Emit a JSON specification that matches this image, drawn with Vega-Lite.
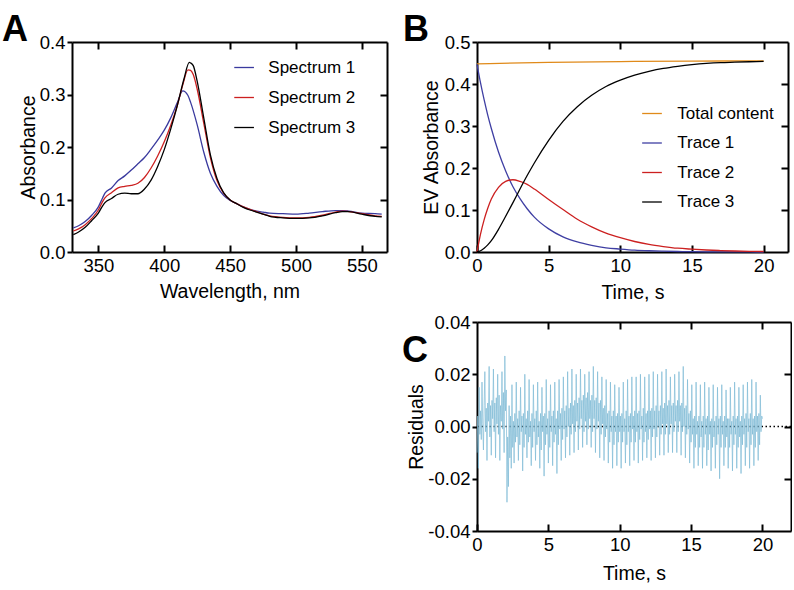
{
"$schema":"https://vega.github.io/schema/vega-lite/v6.json",
"background":"white",
"padding":{"left":2,"top":12,"right":0,"bottom":0},
"config":{
 "font":"Liberation Sans",
 "view":{"stroke":null},
 "axis":{"domainColor":"black","domainWidth":2,"tickColor":"black","tickWidth":2,"labelColor":"black","labelFontSize":18.5,"titleFontSize":19.5,"titleFontWeight":"normal","titleColor":"black","grid":false,"labelFlush":false,"labelOverlap":false},
 "title":{"fontSize":36,"fontWeight":"bold","anchor":"start","frame":"group","offset":0,"color":"black","baseline":"alphabetic"},
 "legend":{"padding":0,"labelFontSize":17,"labelColor":"black","symbolType":"stroke","symbolStrokeWidth":1.3,"symbolSize":388}
},
"resolve":{"scale":{"color":"independent"},"legend":{"color":"independent"}},
"datasets":{
 "spectra":[
{"nm":331,"s":"Spectrum 1","a":0.046},{"nm":335,"s":"Spectrum 1","a":0.05},{"nm":340,"s":"Spectrum 1","a":0.058},{"nm":345,"s":"Spectrum 1","a":0.07},{"nm":350,"s":"Spectrum 1","a":0.086},{"nm":353,"s":"Spectrum 1","a":0.102},{"nm":355,"s":"Spectrum 1","a":0.112},{"nm":360,"s":"Spectrum 1","a":0.122},{"nm":365,"s":"Spectrum 1","a":0.136},{"nm":370,"s":"Spectrum 1","a":0.145},{"nm":375,"s":"Spectrum 1","a":0.156},{"nm":380,"s":"Spectrum 1","a":0.168},{"nm":385,"s":"Spectrum 1","a":0.18},{"nm":390,"s":"Spectrum 1","a":0.196},{"nm":395,"s":"Spectrum 1","a":0.213},{"nm":400,"s":"Spectrum 1","a":0.232},{"nm":405,"s":"Spectrum 1","a":0.256},{"nm":410,"s":"Spectrum 1","a":0.285},{"nm":414,"s":"Spectrum 1","a":0.307},{"nm":418,"s":"Spectrum 1","a":0.298},{"nm":420,"s":"Spectrum 1","a":0.285},{"nm":425,"s":"Spectrum 1","a":0.242},{"nm":430,"s":"Spectrum 1","a":0.19},{"nm":435,"s":"Spectrum 1","a":0.15},{"nm":440,"s":"Spectrum 1","a":0.125},{"nm":445,"s":"Spectrum 1","a":0.108},{"nm":450,"s":"Spectrum 1","a":0.098},{"nm":455,"s":"Spectrum 1","a":0.092},{"nm":460,"s":"Spectrum 1","a":0.086},{"nm":465,"s":"Spectrum 1","a":0.081},{"nm":470,"s":"Spectrum 1","a":0.078},{"nm":475,"s":"Spectrum 1","a":0.076},{"nm":480,"s":"Spectrum 1","a":0.074},{"nm":490,"s":"Spectrum 1","a":0.073},{"nm":500,"s":"Spectrum 1","a":0.072},{"nm":510,"s":"Spectrum 1","a":0.074},{"nm":520,"s":"Spectrum 1","a":0.077},{"nm":530,"s":"Spectrum 1","a":0.079},{"nm":535,"s":"Spectrum 1","a":0.079},{"nm":540,"s":"Spectrum 1","a":0.078},{"nm":550,"s":"Spectrum 1","a":0.074},{"nm":560,"s":"Spectrum 1","a":0.073},{"nm":565,"s":"Spectrum 1","a":0.072},
{"nm":331,"s":"Spectrum 2","a":0.04},{"nm":335,"s":"Spectrum 2","a":0.044},{"nm":340,"s":"Spectrum 2","a":0.052},{"nm":345,"s":"Spectrum 2","a":0.064},{"nm":350,"s":"Spectrum 2","a":0.08},{"nm":353,"s":"Spectrum 2","a":0.095},{"nm":355,"s":"Spectrum 2","a":0.103},{"nm":360,"s":"Spectrum 2","a":0.113},{"nm":365,"s":"Spectrum 2","a":0.122},{"nm":370,"s":"Spectrum 2","a":0.125},{"nm":375,"s":"Spectrum 2","a":0.127},{"nm":380,"s":"Spectrum 2","a":0.131},{"nm":385,"s":"Spectrum 2","a":0.142},{"nm":390,"s":"Spectrum 2","a":0.16},{"nm":395,"s":"Spectrum 2","a":0.183},{"nm":400,"s":"Spectrum 2","a":0.21},{"nm":405,"s":"Spectrum 2","a":0.242},{"nm":410,"s":"Spectrum 2","a":0.28},{"nm":414,"s":"Spectrum 2","a":0.318},{"nm":418,"s":"Spectrum 2","a":0.347},{"nm":420,"s":"Spectrum 2","a":0.346},{"nm":422,"s":"Spectrum 2","a":0.338},{"nm":425,"s":"Spectrum 2","a":0.31},{"nm":430,"s":"Spectrum 2","a":0.245},{"nm":435,"s":"Spectrum 2","a":0.18},{"nm":440,"s":"Spectrum 2","a":0.136},{"nm":445,"s":"Spectrum 2","a":0.112},{"nm":450,"s":"Spectrum 2","a":0.099},{"nm":455,"s":"Spectrum 2","a":0.092},{"nm":460,"s":"Spectrum 2","a":0.086},{"nm":465,"s":"Spectrum 2","a":0.081},{"nm":470,"s":"Spectrum 2","a":0.077},{"nm":475,"s":"Spectrum 2","a":0.072},{"nm":480,"s":"Spectrum 2","a":0.069},{"nm":490,"s":"Spectrum 2","a":0.066},{"nm":500,"s":"Spectrum 2","a":0.065},{"nm":510,"s":"Spectrum 2","a":0.066},{"nm":520,"s":"Spectrum 2","a":0.07},{"nm":530,"s":"Spectrum 2","a":0.076},{"nm":535,"s":"Spectrum 2","a":0.078},{"nm":540,"s":"Spectrum 2","a":0.077},{"nm":550,"s":"Spectrum 2","a":0.073},{"nm":560,"s":"Spectrum 2","a":0.069},{"nm":565,"s":"Spectrum 2","a":0.068},
{"nm":331,"s":"Spectrum 3","a":0.033},{"nm":335,"s":"Spectrum 3","a":0.038},{"nm":340,"s":"Spectrum 3","a":0.047},{"nm":345,"s":"Spectrum 3","a":0.06},{"nm":350,"s":"Spectrum 3","a":0.074},{"nm":353,"s":"Spectrum 3","a":0.087},{"nm":355,"s":"Spectrum 3","a":0.094},{"nm":360,"s":"Spectrum 3","a":0.102},{"nm":365,"s":"Spectrum 3","a":0.11},{"nm":370,"s":"Spectrum 3","a":0.112},{"nm":375,"s":"Spectrum 3","a":0.111},{"nm":380,"s":"Spectrum 3","a":0.111},{"nm":385,"s":"Spectrum 3","a":0.12},{"nm":390,"s":"Spectrum 3","a":0.137},{"nm":395,"s":"Spectrum 3","a":0.163},{"nm":400,"s":"Spectrum 3","a":0.195},{"nm":405,"s":"Spectrum 3","a":0.235},{"nm":410,"s":"Spectrum 3","a":0.28},{"nm":415,"s":"Spectrum 3","a":0.33},{"nm":419,"s":"Spectrum 3","a":0.361},{"nm":420,"s":"Spectrum 3","a":0.36},{"nm":422,"s":"Spectrum 3","a":0.355},{"nm":425,"s":"Spectrum 3","a":0.325},{"nm":430,"s":"Spectrum 3","a":0.255},{"nm":435,"s":"Spectrum 3","a":0.185},{"nm":440,"s":"Spectrum 3","a":0.14},{"nm":445,"s":"Spectrum 3","a":0.113},{"nm":450,"s":"Spectrum 3","a":0.099},{"nm":455,"s":"Spectrum 3","a":0.092},{"nm":460,"s":"Spectrum 3","a":0.085},{"nm":465,"s":"Spectrum 3","a":0.08},{"nm":470,"s":"Spectrum 3","a":0.076},{"nm":475,"s":"Spectrum 3","a":0.072},{"nm":480,"s":"Spectrum 3","a":0.068},{"nm":490,"s":"Spectrum 3","a":0.065},{"nm":500,"s":"Spectrum 3","a":0.064},{"nm":510,"s":"Spectrum 3","a":0.065},{"nm":520,"s":"Spectrum 3","a":0.069},{"nm":530,"s":"Spectrum 3","a":0.075},{"nm":535,"s":"Spectrum 3","a":0.077},{"nm":540,"s":"Spectrum 3","a":0.077},{"nm":550,"s":"Spectrum 3","a":0.072},{"nm":560,"s":"Spectrum 3","a":0.068},{"nm":565,"s":"Spectrum 3","a":0.067}
 ],
 "traces":[
{"t":0,"k":"Total content","v":0.448},{"t":5,"k":"Total content","v":0.4515},{"t":10,"k":"Total content","v":0.4535},{"t":15,"k":"Total content","v":0.4545},{"t":20,"k":"Total content","v":0.455},
{"t":0,"k":"Trace 1","v":0.447},{"t":0.25,"k":"Trace 1","v":0.402},{"t":0.5,"k":"Trace 1","v":0.362},{"t":0.75,"k":"Trace 1","v":0.326},{"t":1,"k":"Trace 1","v":0.294},{"t":1.5,"k":"Trace 1","v":0.238},{"t":2,"k":"Trace 1","v":0.193},{"t":2.5,"k":"Trace 1","v":0.156},{"t":3,"k":"Trace 1","v":0.127},{"t":3.5,"k":"Trace 1","v":0.103},{"t":4,"k":"Trace 1","v":0.083},{"t":5,"k":"Trace 1","v":0.055},{"t":6,"k":"Trace 1","v":0.036},{"t":7,"k":"Trace 1","v":0.024},{"t":8,"k":"Trace 1","v":0.016},{"t":9,"k":"Trace 1","v":0.01},{"t":10,"k":"Trace 1","v":0.007},{"t":11,"k":"Trace 1","v":0.0045},{"t":12,"k":"Trace 1","v":0.003},{"t":13,"k":"Trace 1","v":0.002},{"t":14,"k":"Trace 1","v":0.0012},{"t":15,"k":"Trace 1","v":0.0008},{"t":16,"k":"Trace 1","v":0.0005},{"t":17,"k":"Trace 1","v":0.0003},{"t":18,"k":"Trace 1","v":0.0002},{"t":19,"k":"Trace 1","v":0.0001},{"t":20,"k":"Trace 1","v":0},
{"t":0,"k":"Trace 2","v":0},{"t":0.25,"k":"Trace 2","v":0.043},{"t":0.5,"k":"Trace 2","v":0.077},{"t":0.75,"k":"Trace 2","v":0.104},{"t":1,"k":"Trace 2","v":0.126},{"t":1.5,"k":"Trace 2","v":0.154},{"t":2,"k":"Trace 2","v":0.168},{"t":2.5,"k":"Trace 2","v":0.172},{"t":3,"k":"Trace 2","v":0.168},{"t":3.5,"k":"Trace 2","v":0.161},{"t":4,"k":"Trace 2","v":0.15},{"t":5,"k":"Trace 2","v":0.125},{"t":6,"k":"Trace 2","v":0.101},{"t":7,"k":"Trace 2","v":0.078},{"t":8,"k":"Trace 2","v":0.06},{"t":9,"k":"Trace 2","v":0.045},{"t":10,"k":"Trace 2","v":0.034},{"t":11,"k":"Trace 2","v":0.025},{"t":12,"k":"Trace 2","v":0.018},{"t":13,"k":"Trace 2","v":0.013},{"t":14,"k":"Trace 2","v":0.009},{"t":15,"k":"Trace 2","v":0.0067},{"t":16,"k":"Trace 2","v":0.0048},{"t":17,"k":"Trace 2","v":0.0034},{"t":18,"k":"Trace 2","v":0.0024},{"t":19,"k":"Trace 2","v":0.0017},{"t":20,"k":"Trace 2","v":0.0012},
{"t":0,"k":"Trace 3","v":0},{"t":0.25,"k":"Trace 3","v":0.003},{"t":0.5,"k":"Trace 3","v":0.009},{"t":0.75,"k":"Trace 3","v":0.017},{"t":1,"k":"Trace 3","v":0.027},{"t":1.5,"k":"Trace 3","v":0.054},{"t":2,"k":"Trace 3","v":0.085},{"t":2.5,"k":"Trace 3","v":0.117},{"t":3,"k":"Trace 3","v":0.15},{"t":3.5,"k":"Trace 3","v":0.182},{"t":4,"k":"Trace 3","v":0.212},{"t":5,"k":"Trace 3","v":0.266},{"t":6,"k":"Trace 3","v":0.311},{"t":7,"k":"Trace 3","v":0.346},{"t":8,"k":"Trace 3","v":0.373},{"t":9,"k":"Trace 3","v":0.394},{"t":10,"k":"Trace 3","v":0.409},{"t":11,"k":"Trace 3","v":0.421},{"t":12,"k":"Trace 3","v":0.43},{"t":13,"k":"Trace 3","v":0.437},{"t":14,"k":"Trace 3","v":0.442},{"t":15,"k":"Trace 3","v":0.446},{"t":16,"k":"Trace 3","v":0.449},{"t":17,"k":"Trace 3","v":0.451},{"t":18,"k":"Trace 3","v":0.452},{"t":19,"k":"Trace 3","v":0.453},{"t":20,"k":"Trace 3","v":0.454}
 ],
 "resid":[
{"t":0,"r":-0.01},{"t":0.05,"r":0.004},{"t":0.1,"r":-0.016},{"t":0.15,"r":0.015},{"t":0.2,"r":-0.003},{"t":0.25,"r":0.006},{"t":0.3,"r":-0.005},{"t":0.35,"r":0.017},{"t":0.4,"r":0.001},{"t":0.45,"r":-0.009},{"t":0.5,"r":0.008},{"t":0.55,"r":0.021},{"t":0.6,"r":-0.002},{"t":0.65,"r":0.007},{"t":0.7,"r":-0.013},{"t":0.75,"r":0.009},{"t":0.8,"r":0.002},{"t":0.85,"r":0.023},{"t":0.9,"r":-0.004},{"t":0.95,"r":0.008},
{"t":1,"r":-0.011},{"t":1.05,"r":0.01},{"t":1.1,"r":0.003},{"t":1.15,"r":0.022},{"t":1.2,"r":-0.002},{"t":1.25,"r":0.009},{"t":1.3,"r":-0.012},{"t":1.35,"r":0.011},{"t":1.4,"r":0.001},{"t":1.45,"r":0.02},{"t":1.5,"r":-0.003},{"t":1.55,"r":0.012},{"t":1.6,"r":-0.013},{"t":1.65,"r":0.008},{"t":1.7,"r":0.002},{"t":1.75,"r":0.021},{"t":1.8,"r":-0.001},{"t":1.85,"r":0.013},{"t":1.9,"r":-0.01},{"t":1.95,"r":0.027},
{"t":2,"r":0.006},{"t":2.05,"r":0.014},{"t":2.1,"r":-0.029},{"t":2.15,"r":-0.004},{"t":2.2,"r":-0.023},{"t":2.25,"r":0.008},{"t":2.3,"r":-0.012},{"t":2.35,"r":0.004},{"t":2.4,"r":-0.016},{"t":2.45,"r":0.016},{"t":2.5,"r":-0.008},{"t":2.55,"r":0.002},{"t":2.6,"r":-0.014},{"t":2.65,"r":0.005},{"t":2.7,"r":-0.006},{"t":2.75,"r":0.017},{"t":2.8,"r":-0.004},{"t":2.85,"r":0.003},{"t":2.9,"r":-0.013},{"t":2.95,"r":0.006},
{"t":3,"r":-0.007},{"t":3.05,"r":0.015},{"t":3.1,"r":-0.002},{"t":3.15,"r":0.004},{"t":3.2,"r":-0.017},{"t":3.25,"r":0.005},{"t":3.3,"r":-0.008},{"t":3.35,"r":0.02},{"t":3.4,"r":-0.003},{"t":3.45,"r":0.003},{"t":3.5,"r":-0.012},{"t":3.55,"r":0.006},{"t":3.6,"r":-0.006},{"t":3.65,"r":0.018},{"t":3.7,"r":-0.004},{"t":3.75,"r":0.002},{"t":3.8,"r":-0.015},{"t":3.85,"r":0.005},{"t":3.9,"r":-0.008},{"t":3.95,"r":0.016},
{"t":4,"r":-0.002},{"t":4.05,"r":0.003},{"t":4.1,"r":-0.013},{"t":4.15,"r":0.006},{"t":4.2,"r":-0.007},{"t":4.25,"r":0.017},{"t":4.3,"r":-0.004},{"t":4.35,"r":0.002},{"t":4.4,"r":-0.016},{"t":4.45,"r":0.005},{"t":4.5,"r":-0.009},{"t":4.55,"r":0.015},{"t":4.6,"r":-0.002},{"t":4.65,"r":0.004},{"t":4.7,"r":-0.019},{"t":4.75,"r":0.005},{"t":4.8,"r":-0.007},{"t":4.85,"r":0.018},{"t":4.9,"r":-0.003},{"t":4.95,"r":0.003},
{"t":5,"r":-0.014},{"t":5.05,"r":0.006},{"t":5.1,"r":-0.008},{"t":5.15,"r":0.016},{"t":5.2,"r":-0.002},{"t":5.25,"r":0.004},{"t":5.3,"r":-0.015},{"t":5.35,"r":0.006},{"t":5.4,"r":-0.006},{"t":5.45,"r":0.017},{"t":5.5,"r":-0.003},{"t":5.55,"r":0.003},{"t":5.6,"r":-0.018},{"t":5.65,"r":0.006},{"t":5.7,"r":-0.007},{"t":5.75,"r":0.018},{"t":5.8,"r":-0.001},{"t":5.85,"r":0.005},{"t":5.9,"r":-0.013},{"t":5.95,"r":0.007},
{"t":6,"r":-0.005},{"t":6.05,"r":0.019},{"t":6.1,"r":-0.001},{"t":6.15,"r":0.006},{"t":6.2,"r":-0.012},{"t":6.25,"r":0.008},{"t":6.3,"r":-0.004},{"t":6.35,"r":0.021},{"t":6.4,"r":0},{"t":6.45,"r":0.007},{"t":6.5,"r":-0.011},{"t":6.55,"r":0.009},{"t":6.6,"r":-0.003},{"t":6.65,"r":0.022},{"t":6.7,"r":0.001},{"t":6.75,"r":0.008},{"t":6.8,"r":-0.01},{"t":6.85,"r":0.01},{"t":6.9,"r":-0.002},{"t":6.95,"r":0.02},
{"t":7,"r":0.002},{"t":7.05,"r":0.009},{"t":7.1,"r":-0.009},{"t":7.15,"r":0.011},{"t":7.2,"r":-0.001},{"t":7.25,"r":0.022},{"t":7.3,"r":0.003},{"t":7.35,"r":0.01},{"t":7.4,"r":-0.008},{"t":7.45,"r":0.012},{"t":7.5,"r":-0.002},{"t":7.55,"r":0.02},{"t":7.6,"r":0.002},{"t":7.65,"r":0.011},{"t":7.7,"r":-0.007},{"t":7.75,"r":0.013},{"t":7.8,"r":-0.001},{"t":7.85,"r":0.021},{"t":7.9,"r":0.003},{"t":7.95,"r":0.01},
{"t":8,"r":-0.008},{"t":8.05,"r":0.012},{"t":8.1,"r":-0.002},{"t":8.15,"r":0.023},{"t":8.2,"r":0.003},{"t":8.25,"r":0.01},{"t":8.3,"r":-0.01},{"t":8.35,"r":0.011},{"t":8.4,"r":-0.001},{"t":8.45,"r":0.021},{"t":8.5,"r":0.002},{"t":8.55,"r":0.009},{"t":8.6,"r":-0.012},{"t":8.65,"r":0.01},{"t":8.7,"r":-0.003},{"t":8.75,"r":0.019},{"t":8.8,"r":0.001},{"t":8.85,"r":0.007},{"t":8.9,"r":-0.013},{"t":8.95,"r":0.008},
{"t":9,"r":-0.004},{"t":9.05,"r":0.018},{"t":9.1,"r":-0.001},{"t":9.15,"r":0.005},{"t":9.2,"r":-0.014},{"t":9.25,"r":0.006},{"t":9.3,"r":-0.006},{"t":9.35,"r":0.017},{"t":9.4,"r":-0.002},{"t":9.45,"r":0.004},{"t":9.5,"r":-0.016},{"t":9.55,"r":0.006},{"t":9.6,"r":-0.007},{"t":9.65,"r":0.016},{"t":9.7,"r":-0.002},{"t":9.75,"r":0.004},{"t":9.8,"r":-0.015},{"t":9.85,"r":0.005},{"t":9.9,"r":-0.006},{"t":9.95,"r":0.015},
{"t":10,"r":-0.002},{"t":10.05,"r":0.004},{"t":10.1,"r":-0.016},{"t":10.15,"r":0.005},{"t":10.2,"r":-0.006},{"t":10.25,"r":0.017},{"t":10.3,"r":-0.002},{"t":10.35,"r":0.003},{"t":10.4,"r":-0.014},{"t":10.45,"r":0.006},{"t":10.5,"r":-0.007},{"t":10.55,"r":0.018},{"t":10.6,"r":-0.002},{"t":10.65,"r":0.004},{"t":10.7,"r":-0.015},{"t":10.75,"r":0.005},{"t":10.8,"r":-0.006},{"t":10.85,"r":0.019},{"t":10.9,"r":-0.001},{"t":10.95,"r":0.004},
{"t":11,"r":-0.013},{"t":11.05,"r":0.006},{"t":11.1,"r":-0.006},{"t":11.15,"r":0.019},{"t":11.2,"r":-0.002},{"t":11.25,"r":0.005},{"t":11.3,"r":-0.014},{"t":11.35,"r":0.006},{"t":11.4,"r":-0.005},{"t":11.45,"r":0.02},{"t":11.5,"r":-0.001},{"t":11.55,"r":0.004},{"t":11.6,"r":-0.013},{"t":11.65,"r":0.007},{"t":11.7,"r":-0.006},{"t":11.75,"r":0.019},{"t":11.8,"r":-0.002},{"t":11.85,"r":0.005},{"t":11.9,"r":-0.012},{"t":11.95,"r":0.006},
{"t":12,"r":-0.005},{"t":12.05,"r":0.02},{"t":12.1,"r":-0.001},{"t":12.15,"r":0.006},{"t":12.2,"r":-0.013},{"t":12.25,"r":0.007},{"t":12.3,"r":-0.004},{"t":12.35,"r":0.021},{"t":12.4,"r":-0.001},{"t":12.45,"r":0.006},{"t":12.5,"r":-0.012},{"t":12.55,"r":0.008},{"t":12.6,"r":-0.004},{"t":12.65,"r":0.02},{"t":12.7,"r":0},{"t":12.75,"r":0.006},{"t":12.8,"r":-0.011},{"t":12.85,"r":0.008},{"t":12.9,"r":-0.003},{"t":12.95,"r":0.021},
{"t":13,"r":0.001},{"t":13.05,"r":0.007},{"t":13.1,"r":-0.011},{"t":13.15,"r":0.009},{"t":13.2,"r":-0.003},{"t":13.25,"r":0.022},{"t":13.3,"r":0.001},{"t":13.35,"r":0.008},{"t":13.4,"r":-0.01},{"t":13.45,"r":0.01},{"t":13.5,"r":-0.003},{"t":13.55,"r":0.019},{"t":13.6,"r":0.001},{"t":13.65,"r":0.008},{"t":13.7,"r":-0.01},{"t":13.75,"r":0.009},{"t":13.8,"r":-0.002},{"t":13.85,"r":0.02},{"t":13.9,"r":0.002},{"t":13.95,"r":0.008},
{"t":14,"r":-0.01},{"t":14.05,"r":0.01},{"t":14.1,"r":-0.002},{"t":14.15,"r":0.021},{"t":14.2,"r":0.002},{"t":14.25,"r":0.008},{"t":14.3,"r":-0.011},{"t":14.35,"r":0.009},{"t":14.4,"r":-0.002},{"t":14.45,"r":0.023},{"t":14.5,"r":0},{"t":14.55,"r":0.007},{"t":14.6,"r":-0.012},{"t":14.65,"r":0.008},{"t":14.7,"r":-0.003},{"t":14.75,"r":0.018},{"t":14.8,"r":-0.001},{"t":14.85,"r":0.005},{"t":14.9,"r":-0.014},{"t":14.95,"r":0.006},
{"t":15,"r":-0.006},{"t":15.05,"r":0.016},{"t":15.1,"r":-0.003},{"t":15.15,"r":0.003},{"t":15.2,"r":-0.016},{"t":15.25,"r":0.004},{"t":15.3,"r":-0.008},{"t":15.35,"r":0.017},{"t":15.4,"r":-0.003},{"t":15.45,"r":0.002},{"t":15.5,"r":-0.015},{"t":15.55,"r":0.004},{"t":15.6,"r":-0.008},{"t":15.65,"r":0.016},{"t":15.7,"r":-0.004},{"t":15.75,"r":0.002},{"t":15.8,"r":-0.016},{"t":15.85,"r":0.004},{"t":15.9,"r":-0.008},{"t":15.95,"r":0.017},
{"t":16,"r":-0.003},{"t":16.05,"r":0.003},{"t":16.1,"r":-0.015},{"t":16.15,"r":0.004},{"t":16.2,"r":-0.009},{"t":16.25,"r":0.015},{"t":16.3,"r":-0.003},{"t":16.35,"r":0.002},{"t":16.4,"r":-0.017},{"t":16.45,"r":0.003},{"t":16.5,"r":-0.008},{"t":16.55,"r":0.016},{"t":16.6,"r":-0.004},{"t":16.65,"r":0.002},{"t":16.7,"r":-0.016},{"t":16.75,"r":0.004},{"t":16.8,"r":-0.007},{"t":16.85,"r":0.015},{"t":16.9,"r":-0.003},{"t":16.95,"r":0.003},
{"t":17,"r":-0.02},{"t":17.05,"r":0.004},{"t":17.1,"r":-0.008},{"t":17.15,"r":0.016},{"t":17.2,"r":-0.003},{"t":17.25,"r":0.002},{"t":17.3,"r":-0.015},{"t":17.35,"r":0.004},{"t":17.4,"r":-0.008},{"t":17.45,"r":0.014},{"t":17.5,"r":-0.004},{"t":17.55,"r":0.003},{"t":17.6,"r":-0.016},{"t":17.65,"r":0.003},{"t":17.7,"r":-0.008},{"t":17.75,"r":0.015},{"t":17.8,"r":-0.003},{"t":17.85,"r":0.002},{"t":17.9,"r":-0.017},{"t":17.95,"r":0.004},
{"t":18,"r":-0.007},{"t":18.05,"r":0.017},{"t":18.1,"r":-0.003},{"t":18.15,"r":0.003},{"t":18.2,"r":-0.016},{"t":18.25,"r":0.004},{"t":18.3,"r":-0.008},{"t":18.35,"r":0.015},{"t":18.4,"r":-0.004},{"t":18.45,"r":0.002},{"t":18.5,"r":-0.018},{"t":18.55,"r":0.004},{"t":18.6,"r":-0.007},{"t":18.65,"r":0.016},{"t":18.7,"r":-0.003},{"t":18.75,"r":0.003},{"t":18.8,"r":-0.015},{"t":18.85,"r":0.005},{"t":18.9,"r":-0.008},{"t":18.95,"r":0.017},
{"t":19,"r":-0.002},{"t":19.05,"r":0.003},{"t":19.1,"r":-0.016},{"t":19.15,"r":0.005},{"t":19.2,"r":-0.007},{"t":19.25,"r":0.018},{"t":19.3,"r":-0.003},{"t":19.35,"r":0.003},{"t":19.4,"r":-0.015},{"t":19.45,"r":0.004},{"t":19.5,"r":-0.008},{"t":19.55,"r":0.017},{"t":19.6,"r":-0.002},{"t":19.65,"r":0.004},{"t":19.7,"r":-0.013},{"t":19.75,"r":0.005},{"t":19.8,"r":-0.007},{"t":19.85,"r":0.012},{"t":19.9,"r":-0.002},{"t":19.95,"r":0.004},{"t":20,"r":0.003}
 ],
 "zero":[{"y":0}]
},
"columns":2,
"bounds":"flush",
"spacing":{"row":70,"column":90},
"concat":[
 {
  "width":315,"height":210,
  "title":{"text":"A","dx":-70,"dy":20},
  "data":{"name":"spectra"},
  "layer":[
   {"mark":{"type":"line","strokeWidth":1.3,"interpolate":"monotone"},
    "encoding":{
     "x":{"field":"nm","type":"quantitative","scale":{"domain":[330,569],"nice":false,"zero":false},"axis":{"orient":"bottom","values":[350,400,450,500,550],"tickSize":-7,"labelPadding":11,"title":"Wavelength, nm","titlePadding":8}},
     "y":{"field":"a","type":"quantitative","scale":{"domain":[0,0.4],"nice":false},"axis":{"orient":"left","values":[0,0.1,0.2,0.3,0.4],"format":".1f","tickSize":5,"labelPadding":2,"title":"Absorbance","titlePadding":1}},
     "color":{"field":"s","type":"nominal","scale":{"domain":["Spectrum 1","Spectrum 2","Spectrum 3"],"range":["#3a3a9e","#cc2020","#000000"]},
      "legend":{"orient":"none","legendX":161.6,"legendY":15,"title":null,"labelOffset":13.7,"rowPadding":11}}
    }},
   {"mark":{"type":"point","opacity":0},
    "encoding":{
     "x":{"field":"nm","type":"quantitative","axis":{"orient":"top","values":[350,400,450,500,550],"tickSize":-7,"labels":false,"title":null}},
     "y":{"field":"a","type":"quantitative","axis":{"orient":"right","values":[0.1,0.2,0.3],"tickSize":-7,"labels":false,"title":null}}
    }}
  ],
  "resolve":{"axis":{"x":"independent","y":"independent"}}
 },
 {
  "width":311,"height":210,
  "title":{"text":"B","dx":-74,"dy":20},
  "data":{"name":"traces"},
  "layer":[
   {"mark":{"type":"line","strokeWidth":1.3,"interpolate":"monotone"},
    "encoding":{
     "x":{"field":"t","type":"quantitative","scale":{"domain":[0,21.7],"nice":false},"axis":{"orient":"bottom","values":[0,5,10,15,20],"tickSize":-7,"labelPadding":11,"title":"Time, s","titlePadding":9}},
     "y":{"field":"v","type":"quantitative","scale":{"domain":[0,0.5],"nice":false},"axis":{"orient":"left","values":[0,0.1,0.2,0.3,0.4,0.5],"format":".1f","tickSize":5,"labelPadding":2,"title":"EV Absorbance","titlePadding":3}},
     "color":{"field":"k","type":"nominal","scale":{"domain":["Total content","Trace 1","Trace 2","Trace 3"],"range":["#e08a1a","#3f3fa3","#cc2020","#000000"]},
      "legend":{"orient":"none","legendX":164.5,"legendY":61,"title":null,"labelOffset":14.8,"rowPadding":10.5}}
    }},
   {"mark":{"type":"point","opacity":0},
    "encoding":{
     "x":{"field":"t","type":"quantitative","axis":{"orient":"top","values":[5,10,15,20],"tickSize":-7,"labels":false,"title":null}},
     "y":{"field":"v","type":"quantitative","axis":{"orient":"right","values":[0.1,0.2,0.3,0.4],"tickSize":-7,"labels":false,"title":null}}
    }}
  ],
  "resolve":{"axis":{"x":"independent","y":"independent"}}
 },
 {
  "width":315,"height":209,
  "data":{"values":[]},
  "mark":{"type":"point","opacity":0}
 },
 {
  "width":314,"height":209,
  "title":{"text":"C","dx":-75,"dy":61},
  "layer":[
   {"data":{"name":"zero"},
    "mark":{"type":"rule","color":"black","strokeWidth":1.5,"strokeDash":[1.5,2.5]},
    "encoding":{"y":{"field":"y","type":"quantitative","scale":{"domain":[-0.04,0.04],"nice":false},"axis":{"orient":"left","values":[-0.04,-0.02,0,0.02,0.04],"format":".2f","labelExpr":"replace(datum.label,'\u2212','-')","tickSize":5,"labelPadding":2,"title":"Residuals","titlePadding":1}}}},
   {"data":{"name":"resid"},
    "mark":{"type":"line","strokeWidth":1,"color":"#7fbad6","opacity":0.7},
    "encoding":{
     "x":{"field":"t","type":"quantitative","scale":{"domain":[0,22],"nice":false},"axis":{"orient":"bottom","values":[0,5,10,15,20],"tickSize":-7,"labelPadding":11,"title":"Time, s","titlePadding":11}},
     "y":{"field":"r","type":"quantitative","axis":null}
    }},
   {"data":{"name":"resid"},
    "mark":{"type":"point","opacity":0},
    "encoding":{
     "x":{"field":"t","type":"quantitative","axis":{"orient":"top","values":[5,10,15,20],"tickSize":-7,"labels":false,"title":null}},
     "y":{"field":"r","type":"quantitative","axis":{"orient":"right","values":[-0.02,0,0.02],"tickSize":-7,"labels":false,"title":null}}
    }}
  ],
  "resolve":{"axis":{"x":"independent","y":"independent"}}
 }
]
}
